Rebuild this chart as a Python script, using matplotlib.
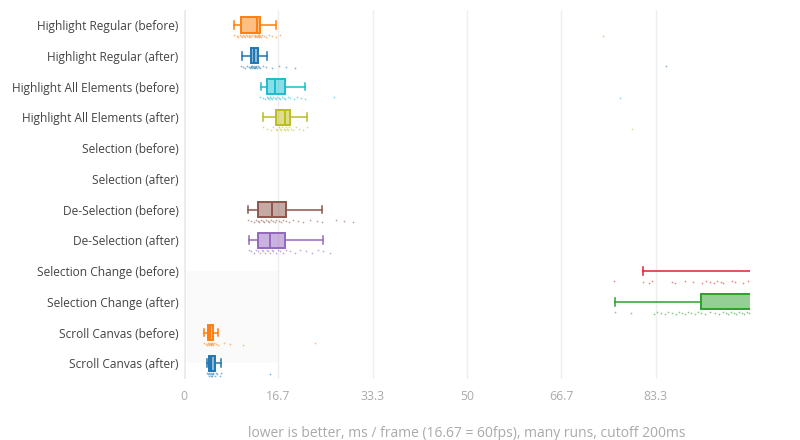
import matplotlib
matplotlib.use("Agg")
import matplotlib.pyplot as plt
from matplotlib.patches import Rectangle

plt.rcParams['font.family'] = ['Open Sans', 'DejaVu Sans']

# ---------- Data (ms / frame) ----------
labels = [
    "Highlight Regular (before)", "Highlight Regular (after)",
    "Highlight All Elements (before)", "Highlight All Elements (after)",
    "Selection (before)", "Selection (after)",
    "De-Selection (before)", "De-Selection (after)",
    "Selection Change (before)", "Selection Change (after)",
    "Scroll Canvas (before)", "Scroll Canvas (after)",
]
colors = ["#ff7f0e", "#1f77b4", "#17becf", "#bcbd22", "#7f7f7f", "#e377c2",
          "#8c564b", "#9467bd", "#d62728", "#2ca02c", "#ff7f0e", "#1f77b4"]

# box stats: whislo, q1, med, q3, whishi (None = no data shown)
whislo = [8.9, 10.3, 13.6, 13.9, None, None, 11.3, 11.4, 81.1, 76.2, 3.6, 4.0]
q1     = [10.0, 11.85, 14.7, 16.3, None, None, 13.1, 13.1, 110, 91.3, 4.2, 4.4]
med    = [12.9, 12.4, 16.0, 17.8, None, None, 15.6, 15.2, 120, 105, 4.6, 4.8]
q3     = [13.5, 13.0, 17.9, 18.7, None, None, 18.1, 17.8, 130, 120, 5.1, 5.5]
whishi = [16.3, 14.6, 21.3, 21.8, None, None, 24.3, 24.6, 150, 150, 6.0, 6.6]

points = [
    [8.9, 9.3, 9.6, 9.9, 10.1, 10.3, 10.5, 10.6, 10.8, 11.0, 11.2, 11.4, 11.5, 11.7,
     11.9, 12.1, 12.3, 12.5, 12.6, 12.8, 12.9, 13.0, 13.1, 13.2, 13.3, 13.4, 13.6,
     13.8, 14.1, 14.5, 15.0, 15.6, 16.3, 17.0, 74.1],
    [10.0, 10.4, 10.8, 11.1, 11.4, 11.6, 11.8, 11.9, 12.0, 12.1, 12.2, 12.3, 12.4,
     12.5, 12.6, 12.7, 12.8, 12.9, 13.0, 13.2, 13.5, 13.9, 14.4, 15.6, 16.8, 18.0,
     19.6, 85.2],
    [13.5, 13.9, 14.3, 14.6, 14.8, 15.0, 15.2, 15.4, 15.6, 15.8, 16.0, 16.2, 16.4,
     16.7, 17.0, 17.3, 17.6, 17.9, 18.3, 18.8, 19.4, 20.0, 20.7, 21.3, 26.5, 77.1],
    [13.9, 14.6, 15.3, 15.8, 16.2, 16.5, 16.8, 17.0, 17.2, 17.4, 17.6, 17.8, 18.0,
     18.2, 18.4, 18.6, 18.9, 19.3, 19.8, 20.4, 21.1, 21.8, 79.1],
    [],
    [],
    [11.3, 11.8, 12.3, 12.7, 13.0, 13.3, 13.6, 13.9, 14.2, 14.5, 14.8, 15.1, 15.4,
     15.7, 16.0, 16.3, 16.7, 17.1, 17.5, 18.0, 18.6, 19.3, 20.1, 21.0, 22.2, 23.5,
     24.3, 26.9, 28.3, 29.9],
    [11.4, 11.9, 12.4, 12.8, 13.1, 13.4, 13.7, 14.0, 14.3, 14.6, 14.9, 15.2, 15.5,
     15.8, 16.2, 16.6, 17.0, 17.5, 18.1, 18.8, 19.6, 20.5, 21.5, 22.6, 23.7, 24.6, 25.8],
    [76.0, 81.1, 82.2, 82.6, 86.3, 86.7, 88.6, 89.9, 91.5, 92.2, 92.9, 93.6, 94.2,
     94.9, 95.3, 96.8, 97.4, 98.7, 99.6],
    [76.2, 79.0, 83.0, 83.6, 84.3, 85.0, 85.6, 86.3, 86.9, 87.4, 88.0, 88.5, 89.1,
     89.6, 90.2, 90.8, 91.3, 92.0, 93.0, 93.8, 94.5, 95.2, 95.7, 96.2, 96.7, 97.1,
     97.6, 98.0, 98.5, 99.0, 99.4, 99.8],
    [3.6, 3.9, 4.1, 4.3, 4.4, 4.5, 4.6, 4.7, 4.8, 4.9, 5.0, 5.1, 5.3, 5.6, 6.0, 7.0,
     8.2, 10.4, 23.1],
    [4.0, 4.2, 4.4, 4.5, 4.6, 4.7, 4.8, 4.9, 5.0, 5.1, 5.2, 5.4, 5.6, 5.9, 6.3, 6.6, 15.2],
]

xticks = [0, 100 / 6, 200 / 6, 50, 400 / 6, 500 / 6]
xticklabels = ["0", "16.7", "33.3", "50", "66.7", "83.3"]

# ---------- Plot ----------
fig = plt.figure(figsize=(8, 4.4), dpi=100)
ax = fig.add_axes([0.23, 0.1395, 0.7075, 0.8385])

# faint highlight rectangle behind the scroll rows
ax.add_patch(Rectangle((0.5, 8), 16.17, 3, facecolor="#fafafa", edgecolor="none", zorder=0))

for i, c in enumerate(colors):
    if whislo[i] is not None:
        stats = [dict(whislo=whislo[i], q1=q1[i], med=med[i], q3=q3[i], whishi=whishi[i])]
        ax.bxp(stats, positions=[i], widths=0.5, orientation="horizontal",
               showfliers=False, patch_artist=True,
               boxprops=dict(facecolor=matplotlib.colors.to_rgba(c, 0.5), edgecolor=c, linewidth=1.4),
               medianprops=dict(color=c, linewidth=1.4),
               whiskerprops=dict(color=c, linewidth=1.1),
               capprops=dict(color=c, linewidth=1.1),
               manage_ticks=False)
    vals = points[i]
    if vals:
        # small deterministic jitter just under the box
        ys = [i + 0.33 + 0.035 * (k % 3) for k in range(len(vals))]
        ax.scatter(vals, ys, s=1.6, color=c, alpha=0.55, linewidths=0, zorder=3)

ax.set_xlim(0, 100)
ax.set_ylim(11.5, -0.5)
ax.set_yticks(range(len(labels)))
ax.set_yticklabels(labels, fontsize=8.6, color="#444444")
ax.set_xticks(xticks)
ax.set_xticklabels(xticklabels, fontsize=8.8, color="#aaaaaa")
ax.tick_params(length=0)
ax.tick_params(axis="x", pad=8)
ax.tick_params(axis="y", pad=4)
ax.grid(axis="x", color="#eeeeee", linewidth=1)
ax.set_axisbelow(True)
ax.axvline(0, color="#e8e8e8", linewidth=2, zorder=0.5)
for s in ax.spines.values():
    s.set_visible(False)

ax.set_xlabel("lower is better, ms / frame (16.67 = 60fps), many runs, cutoff 200ms",
              fontsize=10, color="#aaaaaa", labelpad=17)

fig.savefig("out.png", dpi=100)
